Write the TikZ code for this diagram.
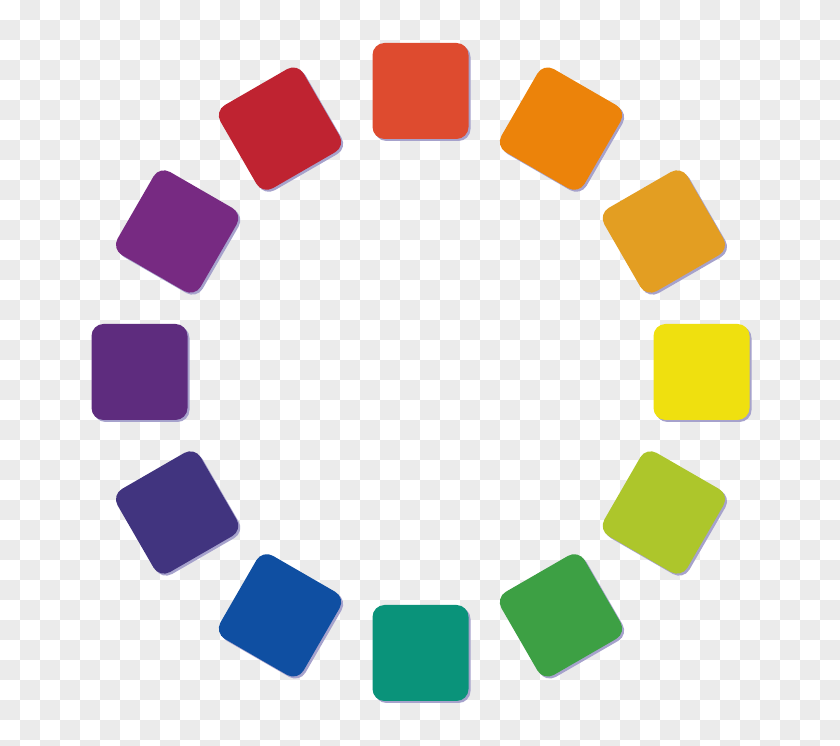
\documentclass[tikz,border=0pt]{standalone}
\usetikzlibrary{calc}
\definecolor{checkgray}{HTML}{EBEBEB}
\definecolor{shadowc}{HTML}{A6A2CC}
\definecolor{c0}{HTML}{DE4B2F}
\definecolor{c1}{HTML}{EC830A}
\definecolor{c2}{HTML}{E39E22}
\definecolor{c3}{HTML}{EFE00F}
\definecolor{c4}{HTML}{ADC62B}
\definecolor{c5}{HTML}{3DA044}
\definecolor{c6}{HTML}{0A937A}
\definecolor{c7}{HTML}{0F4FA2}
\definecolor{c8}{HTML}{41347F}
\definecolor{c9}{HTML}{5E2C7E}
\definecolor{c10}{HTML}{772A82}
\definecolor{c11}{HTML}{BF2331}
\begin{document}
\begin{tikzpicture}[x=1pt,y=1pt,
  tile/.style={rectangle, minimum size=96pt, inner sep=0pt, rounded corners=12pt, draw=none},
  tileshadow/.style={tile, fill=shadowc}]
\useasboundingbox (0,0) rectangle (840,746);
\fill[white] (0,0) rectangle (840,746);
\begin{scope}
\clip (0,0) rectangle (840,746);
\foreach \i in {0,...,41}{
  \foreach \j in {0,...,37}{
    \pgfmathtruncatemacro\s{\i+\j}
    \ifodd\s
      \fill[checkgray] (20*\i,746-20*\j) rectangle (20*\i+20,726-20*\j);
    \fi
  }
}
\end{scope}
\coordinate (O) at (420.5,374);
\foreach \k in {0,...,11}{
  \pgfmathsetmacro\ang{90-30*\k}
  \pgfmathsetmacro\rot{\ang-90}
  \node[tileshadow, rotate=\rot] (s\k) at ($(O)+(\ang:281)+(2,-2)$) {};
  \node[tile, fill=c\k, rotate=\rot] (t\k) at ($(O)+(\ang:281)$) {};
}
\end{tikzpicture}
\end{document}
